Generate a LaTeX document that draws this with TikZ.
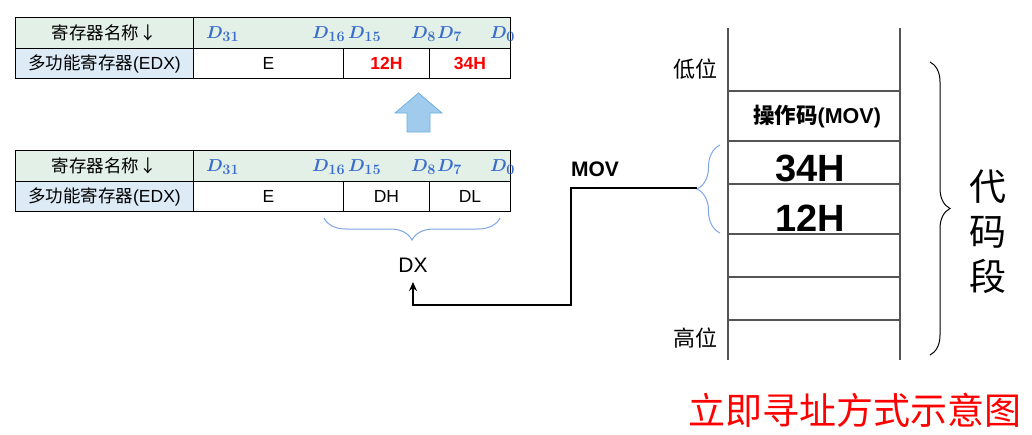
\documentclass[tikz,border=0pt]{standalone}
\usepackage{bm}
\usepackage{fontspec}
\setmainfont{Liberation Sans}
\newfontfamily\cjk{Noto Sans CJK SC}
\usetikzlibrary{calc,positioning,arrows.meta,decorations.pathreplacing}
\definecolor{hdgreen}{RGB}{226,240,231}
\definecolor{nameblue}{RGB}{221,235,247}
\definecolor{bitblue}{RGB}{58,108,204}
\definecolor{braceblue}{RGB}{125,165,228}
\definecolor{upfill}{RGB}{160,203,237}
\definecolor{upline}{RGB}{110,175,225}
\definecolor{memline}{RGB}{85,85,85}
\newcommand{\hot}[1]{\textcolor{red}{\bfseries #1}}

\begin{document}
\begin{tikzpicture}[x=1pt,y=-1pt,
    cell/.style={draw, line width=0.9pt, anchor=north west, inner sep=0pt,
      font=\fontsize{17.5}{19}\selectfont},
    bit/.style={anchor=west, inner sep=0pt, text=bitblue,
      font=\fontsize{19}{21}\selectfont},
    flow/.style={line width=2.2pt, -{Stealth[length=9pt,width=8pt]}},
    memtext/.style={font=\fontsize{38}{40}\selectfont\bfseries},
    side/.style={font=\cjk\fontsize{22}{24}\selectfont}]
    \useasboundingbox (0,0) rectangle (1032,434);
    % the two EDX tables
    \foreach \tb/\yy/\hb/\lb in {a/17/{\hot{12H}}/{\hot{34H}}, b/150/DH/DL} {
      \node[cell, fill=hdgreen, minimum width=178pt, minimum height=31pt] (\tb name) at (15,\yy) {{\cjk 寄存器名称↓}};
      \node[cell, fill=hdgreen, minimum width=317pt, minimum height=31pt] (\tb bits) at (193,\yy) {};
      \node[cell, fill=nameblue, minimum width=178pt, minimum height=30pt] (\tb reg) at (15,\yy+31) {{\cjk 多功能寄存器}(EDX)};
      \node[cell, minimum width=150pt, minimum height=30pt] (\tb e) at (193,\yy+31) {E};
      \node[cell, minimum width=86pt, minimum height=30pt] (\tb hi) at (343,\yy+31) {\hb};
      \node[cell, minimum width=81pt, minimum height=30pt] (\tb lo) at (429,\yy+31) {\lb};
      \foreach \lab/\xx in {31/206,16/312,15/348,8/411,7/437,0/490}
        \node[bit] (\tb d\lab) at (\xx,\yy+17) {$\bm{D_{\lab}}$};
    }
    % block arrow
    \filldraw[fill=upfill, draw=upline, line width=0.8pt] (395,113) -- (418.5,93) -- (442,113) -- (430,113)
      -- (430,132) -- (407,132) -- (407,113) -- cycle;
    % DX brace
    \draw[braceblue, line width=1pt, decorate, decoration={brace, amplitude=22pt}] (500,218) -- (324,218);
    \node[font=\fontsize{21}{24}\selectfont] (dx) at (413,265) {DX};
    \coordinate (dxend) at (413,282);
    % memory
    \draw[memline, line width=1.4pt] (728,28) -- (728,360);
    \draw[memline, line width=1.4pt] (900,28) -- (900,360);
    \foreach \yy in {91,141,184,234,277,320}
      \draw[memline, line width=1.4pt] (728,\yy) -- (900,\yy);
    \node[side] (low) at (695,69) {低位};
    \node[side] (high) at (695,338) {高位};
    \node[font=\fontsize{21.5}{23}\selectfont\bfseries] (op) at (817,117) {{\cjk 操作码}(MOV)};
    \node[memtext] (lobyte) at (810,168) {34H};
    \node[memtext] (hibyte) at (810,218) {12H};
    \draw[braceblue, line width=1pt, decorate, decoration={brace, amplitude=23pt}] (720,233) -- (720,145);
    \coordinate (imm) at (697,188);
    \coordinate (bend) at (571,305);
    \draw[flow] (imm) -| (bend) -| (dxend);
    \node[font=\fontsize{21}{24}\selectfont\bfseries] (mov) at (595,169) {MOV};
    % code segment
    \draw[line width=1pt, decorate, decoration={brace, amplitude=20pt}] (930,62) -- (930,355);
    \node[font=\cjk\fontsize{37}{45}\selectfont, align=center] (seg) at (988,232) {代\\码\\段};
    \node[font=\cjk\fontsize{37}{40}\selectfont, text=red] (caption) at (855,410) {立即寻址方式示意图};
\end{tikzpicture}
\end{document}
